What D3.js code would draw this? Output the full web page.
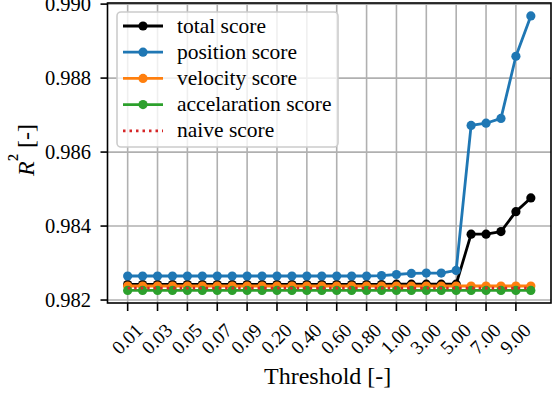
<!DOCTYPE html>
<html>
<head>
<meta charset="utf-8">
<script src="https://cdn.jsdelivr.net/npm/d3@7"></script>
<style>
  body { margin: 0; background: white; }
</style>
</head>
<body>
<svg id="chart" width="556" height="394"></svg>
<script>
const thresholds = ["0.01", "0.02", "0.03", "0.04", "0.05", "0.06", "0.07", "0.08", "0.09",
  "0.10", "0.20", "0.30", "0.40", "0.50", "0.60", "0.70", "0.80", "0.90",
  "1.00", "2.00", "3.00", "4.00", "5.00", "6.00", "7.00", "8.00", "9.00", "10.00"]

const totalScore = [0.98242, 0.98242, 0.98242, 0.98242, 0.98242, 0.98242, 0.98242, 0.98242, 0.98242,
  0.98242, 0.98242, 0.98242, 0.98242, 0.98242, 0.98242, 0.98242, 0.98242, 0.98242,
  0.98243, 0.98243, 0.98243, 0.98243, 0.98243, 0.98378, 0.98378, 0.98385, 0.98439, 0.98476]

const positionScore = [0.98265, 0.98265, 0.98265, 0.98265, 0.98265, 0.98265, 0.98265, 0.98265, 0.98265,
  0.98265, 0.98265, 0.98265, 0.98265, 0.98265, 0.98265, 0.98265, 0.98265, 0.98266,
  0.98269, 0.98272, 0.98273, 0.98273, 0.98280, 0.98672, 0.98678, 0.98691, 0.98859, 0.98968]

const velocityScore = thresholds.map(() => 0.98238)
const accelerationScore = thresholds.map(() => 0.98226)
const naiveScore = thresholds.map(() => 0.98232)

const yTicks = [0.982, 0.984, 0.986, 0.988, 0.990]
const xTickLabels = thresholds.filter((d, i) => i % 2 === 0)

const series = [
  {name: "total score", values: totalScore, color: "#000000", marker: true},
  {name: "position score", values: positionScore, color: "#1f77b4", marker: true},
  {name: "velocity score", values: velocityScore, color: "#ff7f0e", marker: true},
  {name: "accelaration score", values: accelerationScore, color: "#2ca02c", marker: true},
  {name: "naive score", values: naiveScore, color: "#d62728", marker: false, dash: "2.5,4"}
]

// text is set at 24px and scaled down, so the serif face is always picked
const serif = "\"Liberation Serif\", \"DejaVu Serif\", serif"
const baseSize = 24
const mLeft = 107.5, mRight = 551, mTop = 3, mBottom = 303
const svg = d3.select("#chart")

const addText = (str, transform, anchor) => svg.append("text")
  .attr("transform", transform)
  .attr("text-anchor", anchor)
  .attr("dy", "0.33em")
  .style("font-family", serif)
  .style("font-size", baseSize + "px")
  .text(str)

const x = d3.scaleLinear()
  .domain([-1.35, thresholds.length - 1 + 1.35])
  .range([mLeft, mRight])

const y = d3.scaleLinear()
  .domain([0.98192, 0.99003])
  .range([mBottom, mTop])

const grid = svg.append("g").attr("stroke", "#b0b0b0").attr("stroke-width", 1.6)
grid.selectAll(".vx")
  .data(xTickLabels)
  .join("line")
  .attr("x1", d => x(thresholds.indexOf(d)))
  .attr("x2", d => x(thresholds.indexOf(d)))
  .attr("y1", mTop).attr("y2", mBottom)
grid.selectAll(".hy")
  .data(yTicks)
  .join("line")
  .attr("x1", mLeft).attr("x2", mRight)
  .attr("y1", d => y(d)).attr("y2", d => y(d))

const line = d3.line()
  .x((d, i) => x(i))
  .y(d => y(d))

const plot = svg.append("g")
series.forEach(s => {
  plot.append("path")
    .datum(s.values)
    .attr("d", line)
    .attr("fill", "none")
    .attr("stroke", s.color)
    .attr("stroke-width", 2.8)
    .attr("stroke-dasharray", s.dash || null)
    .attr("stroke-linejoin", "round")
  if (s.marker) {
    plot.selectAll(null)
      .data(s.values)
      .join("circle")
      .attr("cx", (d, i) => x(i))
      .attr("cy", d => y(d))
      .attr("r", 4.6)
      .attr("fill", s.color)
  }
})

// frame
svg.append("rect")
  .attr("x", mLeft).attr("y", mTop)
  .attr("width", mRight - mLeft).attr("height", mBottom - mTop)
  .attr("fill", "none")
  .attr("stroke", "#000")
  .attr("stroke-width", 1.6)

// y axis ticks
svg.append("g").selectAll("line")
  .data(yTicks)
  .join("line")
  .attr("x1", mLeft - 7).attr("x2", mLeft)
  .attr("y1", d => y(d)).attr("y2", d => y(d))
  .attr("stroke", "#000").attr("stroke-width", 1.6)
yTicks.forEach(v => {
  addText(d3.format(".3f")(v), `translate(${mLeft - 16.5},${y(v)}) scale(${20.5 / baseSize})`, "end")
})

// x axis ticks
svg.append("g").selectAll("line")
  .data(xTickLabels)
  .join("line")
  .attr("x1", d => x(thresholds.indexOf(d)))
  .attr("x2", d => x(thresholds.indexOf(d)))
  .attr("y1", mBottom).attr("y2", mBottom + 8)
  .attr("stroke", "#000").attr("stroke-width", 1.6)
xTickLabels.forEach(t => {
  addText(t, `translate(${x(thresholds.indexOf(t)) - 0.5},${mBottom + 36}) rotate(-45) scale(${19.5 / baseSize})`, "middle")
})

svg.append("text")
  .attr("x", 327.7)
  .attr("y", 383.5)
  .attr("text-anchor", "middle")
  .style("font-family", serif)
  .style("font-size", "24px")
  .text("Threshold [-]")

const yl = svg.append("text")
  .attr("transform", `translate(34,150) rotate(-90)`)
  .attr("text-anchor", "middle")
  .style("font-family", serif)
  .style("font-size", "24px")
yl.append("tspan").attr("font-style", "italic").text("R")
yl.append("tspan").style("font-size", "24px").attr("font-size", 16).attr("dy", -9)
  .attr("transform", "scale(0.7)").text("²")
yl.append("tspan").attr("dy", 9).text(" [-]")

// legend
svg.append("rect")
  .attr("x", 117).attr("y", 12)
  .attr("width", 221).attr("height", 135)
  .attr("rx", 4)
  .attr("fill", "white").attr("fill-opacity", 0.8)
  .attr("stroke", "#cccccc").attr("stroke-width", 1.6)
series.forEach((s, i) => {
  const ly = 26 + i * 26.2
  svg.append("line")
    .attr("x1", 123).attr("x2", 163)
    .attr("y1", ly).attr("y2", ly)
    .attr("stroke", s.color)
    .attr("stroke-width", 2.8)
    .attr("stroke-dasharray", s.dash || null)
  if (s.marker) {
    svg.append("circle")
      .attr("cx", 143).attr("cy", ly).attr("r", 4.6)
      .attr("fill", s.color)
  }
  addText(s.name, `translate(177,${ly - 0.5}) scale(${21.5 / baseSize})`, "start")
})
</script>
</body>
</html>
